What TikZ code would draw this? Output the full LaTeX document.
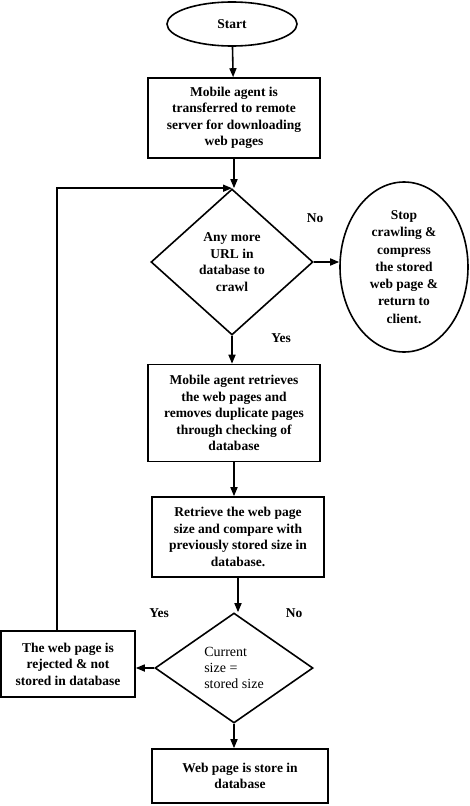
\documentclass[tikz,border=0pt]{standalone}
\usepackage{fontspec}
\setmainfont{Liberation Serif}
\usetikzlibrary{arrows.meta,shapes.geometric,calc}

\begin{document}
\begin{tikzpicture}[x=1pt,y=-1pt,line width=1.6pt,
  >={Triangle[length=9pt,width=7pt]},
  every node/.style={font=\fontsize{13.5}{16.5}\selectfont\bfseries},
  proc/.style={draw,rectangle,align=center,inner sep=2pt},
  term/.style={draw,ellipse,align=center,inner sep=0pt},
  decide/.style={draw,diamond,inner sep=0pt,aspect=1.1}]
  \useasboundingbox (0,0) rectangle (470,806);
  % terminals
  \node[term,minimum width=130pt,minimum height=44pt] (start) at (232,24) {Start};
  \node[term,minimum width=128pt,minimum height=170pt,font=\fontsize{13.5}{17.3}\selectfont\bfseries] (stop) at (404,267)
    {Stop\\crawling \&\\compress\\the stored\\web page \&\\return to\\client.};
  % steps
  \node[proc,minimum width=172pt,minimum height=80pt] (transfer) at (234,118)
    {Mobile agent is\\transferred to remote\\server for downloading\\web pages};
  \node[decide,align=center,minimum width=162pt,minimum height=146pt] (moreurl) at (232,262)
    {Any more\\URL in\\database to\\crawl};
  \node[proc,minimum width=172pt,minimum height=97pt] (retrieve) at (234,413)
    {Mobile agent retrieves\\the web pages and\\removes duplicate pages\\through checking of\\database};
  \node[proc,minimum width=172pt,minimum height=80pt] (compare) at (238,537)
    {Retrieve the web page\\size and compare with\\previously stored size in\\database.};
  \node[decide,align=left,minimum width=158pt,minimum height=110pt,font=\fontsize{14}{16.3}\selectfont] (samesize) at (234,668)
    {Current\\size =\\stored size};
  \node[proc,minimum width=134pt,minimum height=66pt] (reject) at (68,664)
    {The web page is\\rejected \& not\\stored in database};
  \node[proc,minimum width=176pt,minimum height=54pt] (store) at (240,776)
    {Web page is store in\\database};
  % answers
  \node (no1) at (315,218) {No};
  \node (yes1) at (281,338) {Yes};
  \node (yes2) at (159,613) {Yes};
  \node (no2) at (294,613) {No};
  % flow
  \draw[->] (start) -- (transfer);
  \draw[->] (transfer.south) -- (transfer.south |- moreurl.north);
  \draw[->] (moreurl.east) -- (moreurl.east -| stop.west);
  \draw[->] (moreurl.south) -- (moreurl.south |- retrieve.north);
  \draw[->] (retrieve.south) -- (retrieve.south |- compare.north);
  \draw[->] (compare.south) -- (compare.south |- samesize.north);
  \draw[->] (samesize.west) -- (samesize.west -| reject.east);
  \draw[->] (samesize.south) -- (samesize.south |- store.north);
  \draw[->] ([xshift=-11pt]reject.north) |- (moreurl.north);
\end{tikzpicture}
\end{document}
